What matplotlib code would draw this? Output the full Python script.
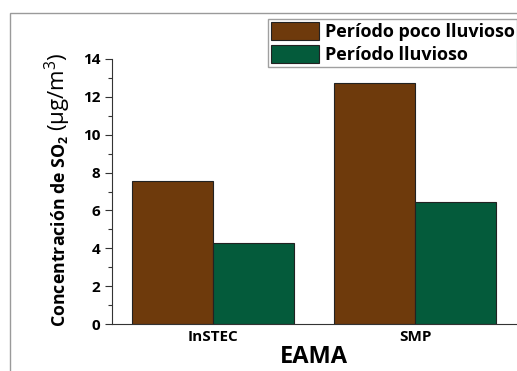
import matplotlib.pyplot as plt
import numpy as np
from matplotlib.patches import Rectangle
from matplotlib.ticker import MultipleLocator

plt.rcParams['font.family'] = ['Open Sans', 'DejaVu Sans']
plt.rcParams['mathtext.fontset'] = 'custom'
plt.rcParams['mathtext.rm'] = 'Open Sans'
plt.rcParams['mathtext.bf'] = 'Open Sans:bold'

stations = ['InSTEC', 'SMP']
dry = [7.55, 12.75]    # Período poco lluvioso
wet = [4.3, 6.45]      # Período lluvioso
labels = ['Período poco lluvioso', 'Período lluvioso']

W, H = 517, 371
fig = plt.figure(figsize=(W / 100, H / 100), dpi=100)
ax = fig.add_axes([112 / W, 1 - 324 / H, 404 / W, 265 / H])

# gray outer frame (only top and left edges visible)
fig.patches.append(Rectangle((10 / W, -0.2), 1.2, (H - 13) / H + 0.2,
                             transform=fig.transFigure, fill=False,
                             edgecolor='#9a9a9a', lw=1.0, clip_on=False))

x = np.arange(len(stations))
w = 0.4
ax.bar(x - w / 2, dry, w, color='#6e3a0c', edgecolor='#222222', lw=0.8, label=labels[0])
ax.bar(x + w / 2, wet, w, color='#045b3b', edgecolor='#222222', lw=0.8, label=labels[1])

ax.set_xlim(-0.5, 1.5)
ax.set_ylim(0, 14)
ax.set_xticks(x)
ax.set_xticklabels(stations, fontsize=11, fontweight='bold')
ax.tick_params(axis='x', length=0, pad=4.5)
ax.yaxis.set_major_locator(MultipleLocator(2))
ax.yaxis.set_minor_locator(MultipleLocator(1))
ax.tick_params(axis='y', which='major', length=5, labelsize=11, width=0.8,
               colors='#333333', labelcolor='black')
ax.tick_params(axis='y', which='minor', length=3, width=0.8, colors='#333333')
for t in ax.get_yticklabels():
    t.set_fontweight('bold')

for s in ['top', 'right']:
    ax.spines[s].set_visible(False)
for s in ['left', 'bottom']:
    ax.spines[s].set_color('#333333')
    ax.spines[s].set_linewidth(0.8)

ax.set_xlabel('EAMA', fontsize=17, fontweight='bold')
ax.xaxis.set_label_coords(0.5, (324 - 363) / 265)
ax.xaxis.label.set_va('baseline')

# y label: bold part + lighter units part, stacked along the same baseline
xb = 65 / W
t1 = fig.text(xb, 1 - 327 / H, r'Concentración de SO$_\mathbf{2}$', rotation=90,
              rotation_mode='anchor', ha='left', va='baseline',
              fontsize=12.8, fontweight='bold')
fig.canvas.draw()
bb = t1.get_window_extent()
fig.text(xb, (bb.y1 + 3) / H, r'(µg/m$^3$)', rotation=90,
         rotation_mode='anchor', ha='left', va='baseline', fontsize=16)

fig.legend(loc='upper left', bbox_to_anchor=(268 / W, 1 - 19 / H),
           prop={'weight': 'bold', 'size': 13},
           frameon=True, fancybox=False, edgecolor='#888888',
           handlelength=2.7, handleheight=1.15, handletextpad=0.3,
           borderpad=0.15, labelspacing=0.25, borderaxespad=0)

fig.savefig('out.png', dpi=100)
